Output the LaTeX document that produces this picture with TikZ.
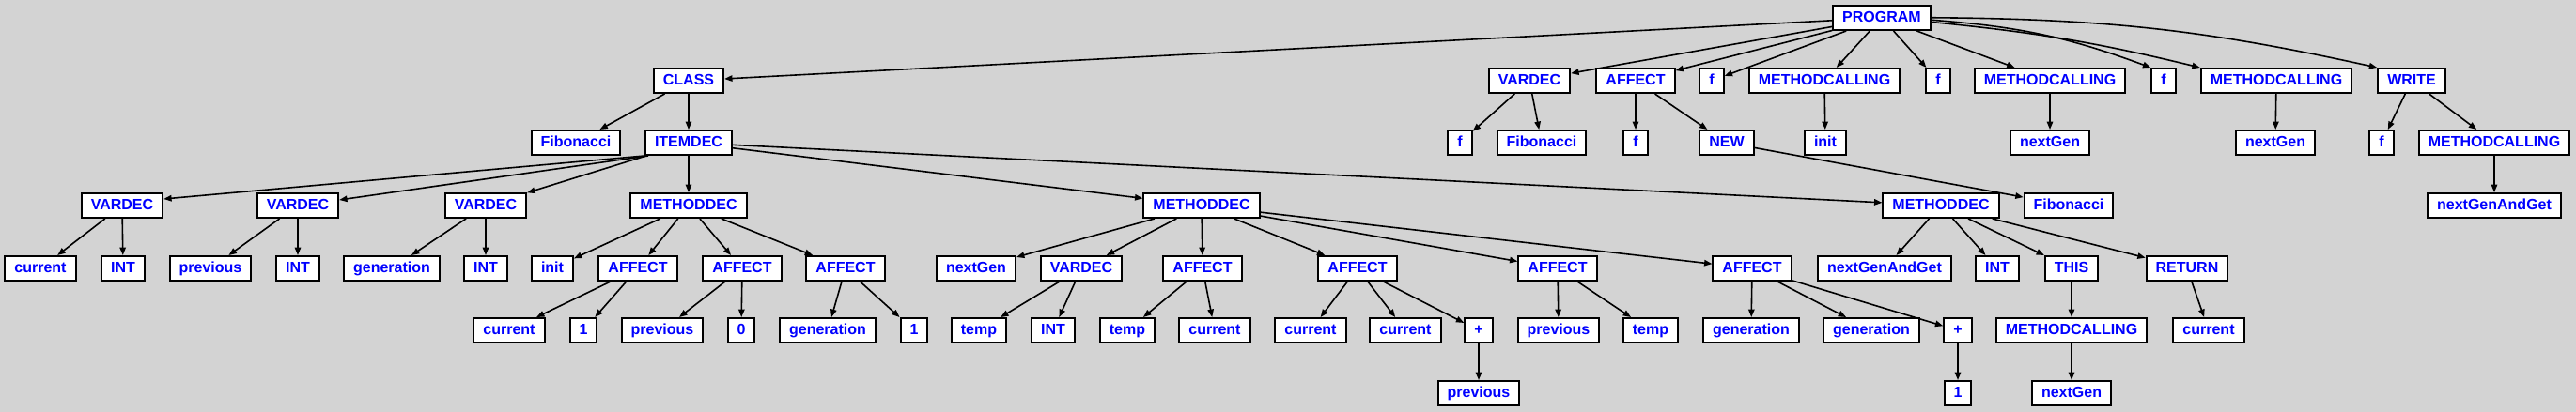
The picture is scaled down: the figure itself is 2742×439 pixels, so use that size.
\documentclass[tikz,border=0pt]{standalone}
\usepackage{fontspec}
\setmainfont{Liberation Sans}
\usetikzlibrary{arrows.meta}
\definecolor{bg}{RGB}{211,211,211}
\definecolor{txt}{RGB}{0,0,255}
\pgfdeclarelayer{bgl}
\pgfdeclarelayer{edg}
\pgfsetlayers{bgl,edg,main}
\begin{document}
\begin{tikzpicture}[x=0.5pt,y=-0.5pt,
  nd/.style={draw=black, line width=1pt, fill=white, text=txt,
    font=\fontsize{8}{9.6}\selectfont\bfseries, inner xsep=5pt, inner ysep=0pt,
    minimum height=13pt, text height=6pt, text depth=1.5pt},
  edge/.style={draw=black, line width=0.8pt, -{Triangle[length=4.2pt,width=3.2pt]}}]
\begin{pgfonlayer}{bgl}
\fill[bg] (0,0) rectangle (2742,439);
\end{pgfonlayer}
\useasboundingbox (0,0) rectangle (2742,439);
% level 0
\node[nd] (P) at (2003,19) {PROGRAM};
% level 1
\node[nd] (c) at (733,86) {CLASS};
\node[nd] (v0) at (1628,86) {VARDEC};
\node[nd] (a0) at (1741,86) {AFFECT};
\node[nd] (f1) at (1822,86) {f};
\node[nd] (m1) at (1942,86) {METHODCALLING};
\node[nd] (f2) at (2063,86) {f};
\node[nd] (m2) at (2182,86) {METHODCALLING};
\node[nd] (f3) at (2303,86) {f};
\node[nd] (m3) at (2423,86) {METHODCALLING};
\node[nd] (w) at (2567,86) {WRITE};
% level 2
\node[nd] (fib1) at (613,152) {Fibonacci};
\node[nd] (it) at (733,152) {ITEMDEC};
\node[nd] (vf) at (1554,152) {f};
\node[nd] (vfib) at (1641,152) {Fibonacci};
\node[nd] (af) at (1741,152) {f};
\node[nd] (new) at (1838,152) {NEW};
\node[nd] (initA) at (1943,152) {init};
\node[nd] (ng1) at (2182,152) {nextGen};
\node[nd] (ng2) at (2422,152) {nextGen};
\node[nd] (wf) at (2535,152) {f};
\node[nd] (wm) at (2655,152) {METHODCALLING};
% level 3
\node[nd] (vd1) at (130,219) {VARDEC};
\node[nd] (vd2) at (317,219) {VARDEC};
\node[nd] (vd3) at (517,219) {VARDEC};
\node[nd] (md1) at (733,219) {METHODDEC};
\node[nd] (md2) at (1279,219) {METHODDEC};
\node[nd] (md3) at (2066,219) {METHODDEC};
\node[nd] (nfib) at (2202,219) {Fibonacci};
\node[nd] (wng) at (2655,219) {nextGenAndGet};
% level 4
\node[nd] (cur1) at (43,286) {current};
\node[nd] (int1) at (131,286) {INT};
\node[nd] (prev1) at (224,286) {previous};
\node[nd] (int2) at (317,286) {INT};
\node[nd] (gen1) at (417,286) {generation};
\node[nd] (int3) at (517,286) {INT};
\node[nd] (initB) at (588,286) {init};
\node[nd] (af1) at (679,286) {AFFECT};
\node[nd] (af2) at (790,286) {AFFECT};
\node[nd] (af3) at (900,286) {AFFECT};
\node[nd] (ng3) at (1039,286) {nextGen};
\node[nd] (vd4) at (1151,286) {VARDEC};
\node[nd] (af4) at (1280,286) {AFFECT};
\node[nd] (af5) at (1445,286) {AFFECT};
\node[nd] (af6) at (1658,286) {AFFECT};
\node[nd] (af7) at (1865,286) {AFFECT};
\node[nd] (nga) at (2006,286) {nextGenAndGet};
\node[nd] (int4) at (2126,286) {INT};
\node[nd] (this) at (2205,286) {THIS};
\node[nd] (ret) at (2328,286) {RETURN};
% level 5
\node[nd] (cur2) at (542,352) {current};
\node[nd] (one1) at (621,352) {1};
\node[nd] (prev2) at (705,352) {previous};
\node[nd] (zero) at (789,352) {0};
\node[nd] (gen2) at (881,352) {generation};
\node[nd] (one2) at (973,352) {1};
\node[nd] (temp1) at (1042,352) {temp};
\node[nd] (int5) at (1121,352) {INT};
\node[nd] (temp2) at (1200,352) {temp};
\node[nd] (cur3) at (1293,352) {current};
\node[nd] (cur4) at (1395,352) {current};
\node[nd] (cur5) at (1496,352) {current};
\node[nd] (plus1) at (1574,352) {+};
\node[nd] (prev3) at (1659,352) {previous};
\node[nd] (temp3) at (1757,352) {temp};
\node[nd] (gen3) at (1864,352) {generation};
\node[nd] (gen4) at (1992,352) {generation};
\node[nd] (plus2) at (2084,352) {+};
\node[nd] (mc) at (2205,352) {METHODCALLING};
\node[nd] (cur6) at (2351,352) {current};
% level 6
\node[nd] (prev4) at (1574,419) {previous};
\node[nd] (one3) at (2084,419) {1};
\node[nd] (ng4) at (2205,419) {nextGen};
\begin{pgfonlayer}{edg}
% edges level 0 -> 1
\draw[edge] (P) -- (c);
\draw[edge] (P) -- (v0);
\draw[edge] (P) -- (a0);
\draw[edge] (P) -- (f1);
\draw[edge] (P) -- (m1);
\draw[edge] (P) -- (f2);
\draw[edge] (P) -- (m2);
\draw[edge] (P) to[bend left=8] (f3.north west);
\draw[edge] (P) to[bend left=4] (m3.north west);
\draw[edge] (P) to[bend left=6] (w.north west);
% level 1 -> 2
\draw[edge] (c) -- (fib1);
\draw[edge] (c) -- (it);
\draw[edge] (v0) -- (vf);
\draw[edge] (v0) -- (vfib);
\draw[edge] (a0) -- (af);
\draw[edge] (a0) -- (new);
\draw[edge] (m1) -- (initA);
\draw[edge] (m2) -- (ng1);
\draw[edge] (m3) -- (ng2);
\draw[edge] (w) -- (wf);
\draw[edge] (w) -- (wm);
% level 2 -> 3
\draw[edge] (it.south west) -- ([yshift=3.5pt]vd1.east);
\draw[edge] ([xshift=2pt]it.south west) -- ([yshift=3pt]vd2.east);
\draw[edge] (it) -- (vd3);
\draw[edge] (it) -- (md1);
\draw[edge] (it) -- (md2);
\draw[edge] (it) -- (md3);
\draw[edge] (new) -- (nfib);
\draw[edge] (wm) -- (wng);
% level 3 -> 4
\draw[edge] (vd1) -- (cur1);
\draw[edge] (vd1) -- (int1);
\draw[edge] (vd2) -- (prev1);
\draw[edge] (vd2) -- (int2);
\draw[edge] (vd3) -- (gen1);
\draw[edge] (vd3) -- (int3);
\draw[edge] (md1) -- (initB);
\draw[edge] (md1) -- (af1);
\draw[edge] (md1) -- (af2);
\draw[edge] (md1) -- (af3);
\draw[edge] (md2) -- (ng3);
\draw[edge] (md2) -- (vd4);
\draw[edge] (md2) -- (af4);
\draw[edge] (md2) -- (af5);
\draw[edge] (md2) -- (af6);
\draw[edge] (md2) -- (af7);
\draw[edge] (md3) -- (nga);
\draw[edge] (md3) -- (int4);
\draw[edge] (md3) -- (this);
\draw[edge] (md3) -- (ret);
% level 4 -> 5
\draw[edge] (af1) -- (cur2);
\draw[edge] (af1) -- (one1);
\draw[edge] (af2) -- (prev2);
\draw[edge] (af2) -- (zero);
\draw[edge] (af3) -- (gen2);
\draw[edge] (af3) -- (one2);
\draw[edge] (vd4) -- (temp1);
\draw[edge] (vd4) -- (int5);
\draw[edge] (af4) -- (temp2);
\draw[edge] (af4) -- (cur3);
\draw[edge] (af5) -- (cur4);
\draw[edge] (af5) -- (cur5);
\draw[edge] (af5) -- (plus1);
\draw[edge] (af6) -- (prev3);
\draw[edge] (af6) -- (temp3);
\draw[edge] (af7) -- (gen3);
\draw[edge] (af7) -- (gen4);
\draw[edge] (af7) -- (plus2);
\draw[edge] (this) -- (mc);
\draw[edge] (ret) -- (cur6);
% level 5 -> 6
\draw[edge] (plus1) -- (prev4);
\draw[edge] (plus2) -- (one3);
\draw[edge] (mc) -- (ng4);
\end{pgfonlayer}
\end{tikzpicture}
\end{document}
